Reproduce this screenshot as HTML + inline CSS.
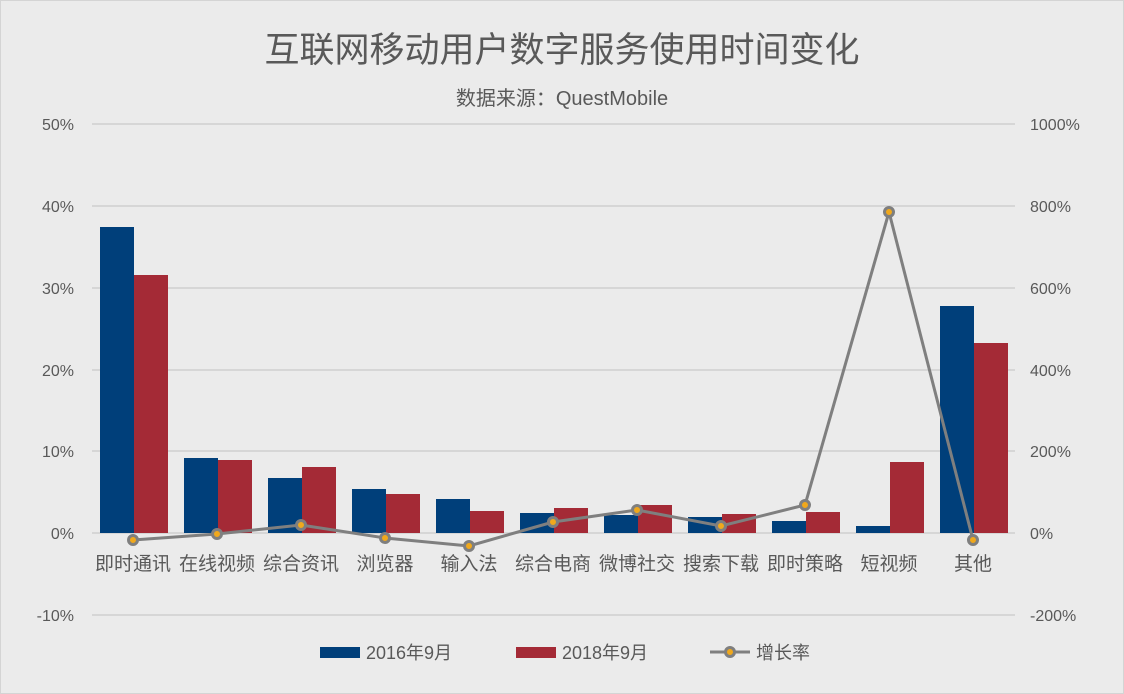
<!DOCTYPE html>
<html><head><meta charset="utf-8"><style>
html,body{margin:0;padding:0;background:#ebebeb;}
svg{display:block;font-family:"Liberation Sans","Noto Sans CJK SC",sans-serif;}
</style></head><body>
<svg width="1124" height="694" viewBox="0 0 1124 694" xmlns="http://www.w3.org/2000/svg">
<rect x="0.5" y="0.5" width="1123" height="693" fill="#ebebeb" stroke="#d4d4d4"/>
<text x="562" y="62" text-anchor="middle" font-size="35" fill="#595959">互联网移动用户数字服务使用时间变化</text>
<text x="562" y="105" text-anchor="middle" font-size="20" fill="#595959">数据来源：QuestMobile</text>
<g stroke="#d6d6d6" stroke-width="2">
<line x1="92" x2="1015" y1="124" y2="124"/><line x1="92" x2="1015" y1="206" y2="206"/>
<line x1="92" x2="1015" y1="288" y2="288"/><line x1="92" x2="1015" y1="370" y2="370"/>
<line x1="92" x2="1015" y1="451" y2="451"/><line x1="92" x2="1015" y1="533" y2="533"/>
<line x1="92" x2="1015" y1="615" y2="615"/>
</g>
<g font-size="16" fill="#595959" text-anchor="end">
<text x="74" y="130">50%</text><text x="74" y="212">40%</text><text x="74" y="294">30%</text>
<text x="74" y="376">20%</text><text x="74" y="457">10%</text><text x="74" y="539">0%</text><text x="74" y="621">-10%</text>
</g>
<g font-size="16" fill="#595959" text-anchor="start">
<text x="1030" y="130">1000%</text><text x="1030" y="212">800%</text><text x="1030" y="294">600%</text>
<text x="1030" y="376">400%</text><text x="1030" y="457">200%</text><text x="1030" y="539">0%</text><text x="1030" y="621">-200%</text>
</g>
<g font-size="19" fill="#595959" text-anchor="middle">
<text x="133" y="570">即时通讯</text><text x="217" y="570">在线视频</text><text x="301" y="570">综合资讯</text>
<text x="385" y="570">浏览器</text><text x="469" y="570">输入法</text><text x="553" y="570">综合电商</text>
<text x="637" y="570">微博社交</text><text x="721" y="570">搜索下载</text><text x="805" y="570">即时策略</text>
<text x="889" y="570">短视频</text><text x="973" y="570">其他</text>
</g>
<g>
<rect x="100" y="227" width="34" height="306" fill="#003f7a"/><rect x="134" y="275" width="34" height="258" fill="#a42a36"/>
<rect x="184" y="458" width="34" height="75" fill="#003f7a"/><rect x="218" y="460" width="34" height="73" fill="#a42a36"/>
<rect x="268" y="478" width="34" height="55" fill="#003f7a"/><rect x="302" y="467" width="34" height="66" fill="#a42a36"/>
<rect x="352" y="489" width="34" height="44" fill="#003f7a"/><rect x="386" y="494" width="34" height="39" fill="#a42a36"/>
<rect x="436" y="499" width="34" height="34" fill="#003f7a"/><rect x="470" y="511" width="34" height="22" fill="#a42a36"/>
<rect x="520" y="513" width="34" height="20" fill="#003f7a"/><rect x="554" y="508" width="34" height="25" fill="#a42a36"/>
<rect x="604" y="515" width="34" height="18" fill="#003f7a"/><rect x="638" y="505" width="34" height="28" fill="#a42a36"/>
<rect x="688" y="517" width="34" height="16" fill="#003f7a"/><rect x="722" y="514" width="34" height="19" fill="#a42a36"/>
<rect x="772" y="521" width="34" height="12" fill="#003f7a"/><rect x="806" y="512" width="34" height="21" fill="#a42a36"/>
<rect x="856" y="526" width="34" height="7" fill="#003f7a"/><rect x="890" y="462" width="34" height="71" fill="#a42a36"/>
<rect x="940" y="306" width="34" height="227" fill="#003f7a"/><rect x="974" y="343" width="34" height="190" fill="#a42a36"/>
</g>
<polyline fill="none" stroke="#7f7f7f" stroke-width="3" points="133,540 217,534 301,525 385,538 469,546 553,522 637,510 721,526 805,505 889,212 973,540"/>
<g fill="#f0a81c" stroke="#7f7f7f" stroke-width="3">
<circle cx="133" cy="540" r="4.5"/><circle cx="217" cy="534" r="4.5"/><circle cx="301" cy="525" r="4.5"/>
<circle cx="385" cy="538" r="4.5"/><circle cx="469" cy="546" r="4.5"/><circle cx="553" cy="522" r="4.5"/>
<circle cx="637" cy="510" r="4.5"/><circle cx="721" cy="526" r="4.5"/><circle cx="805" cy="505" r="4.5"/>
<circle cx="889" cy="212" r="4.5"/><circle cx="973" cy="540" r="4.5"/>
</g>
<rect x="320" y="647" width="40" height="11" fill="#003f7a"/>
<text x="366" y="659" font-size="18" fill="#595959">2016年9月</text>
<rect x="516" y="647" width="40" height="11" fill="#a42a36"/>
<text x="562" y="659" font-size="18" fill="#595959">2018年9月</text>
<line x1="710" x2="750" y1="652" y2="652" stroke="#7f7f7f" stroke-width="3"/>
<circle cx="730" cy="652" r="4.5" fill="#f0a81c" stroke="#7f7f7f" stroke-width="3"/>
<text x="756" y="659" font-size="18" fill="#595959">增长率</text>
</svg>
</body></html>
